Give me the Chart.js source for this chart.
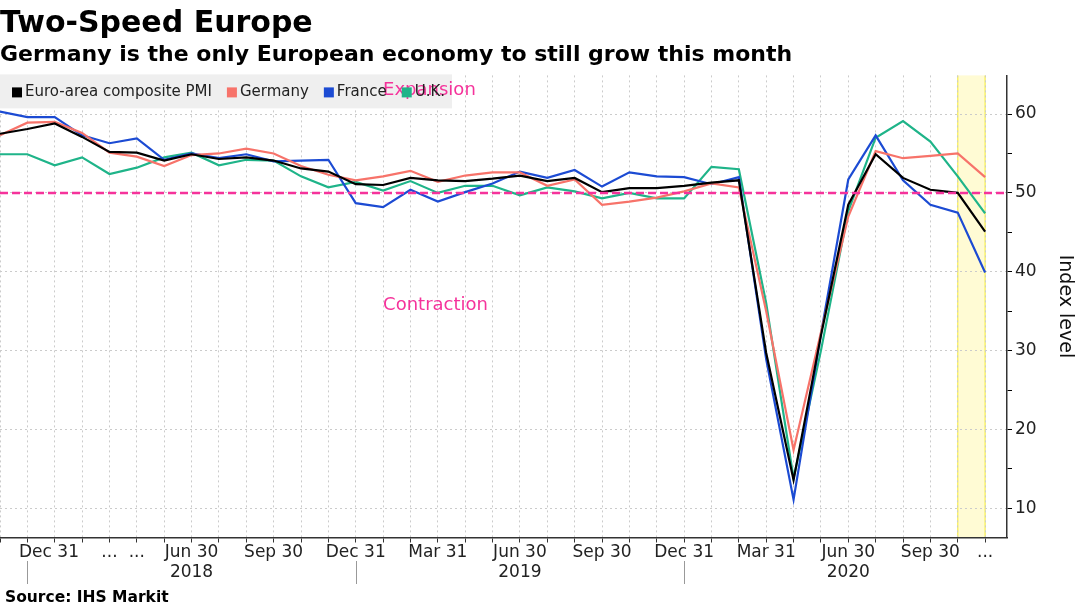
<!DOCTYPE html>
<html>
<head>
<meta charset="utf-8">
<title>Two-Speed Europe</title>
<script src="https://cdn.jsdelivr.net/npm/chart.js@4/dist/chart.umd.min.js"></script>
<style>
  html, body { margin: 0; padding: 0; background: #fff; }
  #wrap { width: 1079px; height: 606px; }
</style>
</head>
<body>
<div id="wrap"><canvas id="pmiChart" width="1079" height="606"></canvas></div>
<script>
// monthly composite PMI readings, Nov 2017 .. Nov 2020 (flash)
const months = ['Nov 2017', 'Dec 2017', 'Jan 2018', 'Feb 2018', 'Mar 2018', 'Apr 2018', 'May 2018', 'Jun 2018',
  'Jul 2018', 'Aug 2018', 'Sep 2018', 'Oct 2018', 'Nov 2018', 'Dec 2018', 'Jan 2019', 'Feb 2019', 'Mar 2019',
  'Apr 2019', 'May 2019', 'Jun 2019', 'Jul 2019', 'Aug 2019', 'Sep 2019', 'Oct 2019', 'Nov 2019', 'Dec 2019',
  'Jan 2020', 'Feb 2020', 'Mar 2020', 'Apr 2020', 'May 2020', 'Jun 2020', 'Jul 2020', 'Aug 2020', 'Sep 2020',
  'Oct 2020', 'Nov 2020'];

const tickLabels = ['', '        Dec 31', '', '', '...', '...', '', 'Jun 30', '', '', 'Sep 30', '', '', 'Dec 31', '', '',
  'Mar 31', '', '', 'Jun 30', '', '', 'Sep 30', '', '', 'Dec 31', '', '', 'Mar 31', '', '', 'Jun 30', '', '',
  'Sep 30', '', '...'];

const years = ['2018', '2019', '2020'];

const euroArea = [57.5, 58.1, 58.8, 57.1, 55.2, 55.1, 54.1, 54.9, 54.3, 54.5, 54.1, 53.1, 52.7, 51.1, 51.0, 51.9,
  51.6, 51.5, 51.8, 52.2, 51.5, 51.9, 50.1, 50.6, 50.6, 50.9, 51.3, 51.6, 29.7, 13.6, 31.9, 48.5, 54.9, 51.9,
  50.4, 50.0, 45.1];
const germany = [57.3, 58.9, 59.0, 57.6, 55.1, 54.6, 53.4, 54.8, 55.0, 55.6, 55.0, 53.4, 52.3, 51.6, 52.1, 52.8,
  51.4, 52.2, 52.6, 52.6, 50.9, 51.7, 48.5, 48.9, 49.4, 50.2, 51.2, 50.7, 35.0, 17.4, 32.3, 47.0, 55.3, 54.4,
  54.7, 55.0, 52.0];
const france = [60.3, 59.6, 59.6, 57.3, 56.3, 56.9, 54.2, 55.0, 54.4, 54.9, 54.0, 54.1, 54.2, 48.7, 48.2, 50.4,
  48.9, 50.1, 51.2, 52.7, 51.9, 52.9, 50.8, 52.6, 52.1, 52.0, 51.1, 52.0, 28.9, 11.1, 32.1, 51.7, 57.3, 51.6,
  48.5, 47.5, 39.9];
const uk = [54.9, 54.9, 53.5, 54.5, 52.4, 53.2, 54.5, 55.1, 53.5, 54.2, 54.1, 52.1, 50.7, 51.4, 50.3, 51.5,
  50.0, 50.9, 50.9, 49.7, 50.7, 50.2, 49.3, 50.0, 49.3, 49.3, 53.3, 53.0, 36.0, 13.8, 30.0, 47.7, 57.0, 59.1,
  56.5, 52.1, 47.4];

const threshold = 50;
const highlightMonth = 'Nov 2020';

const FONT = '"DejaVu Sans", Verdana, sans-serif';
const PINK = '#f5339b';

function toPoints(values) {
  return values.map((v, i) => ({ x: i, y: v }));
}

const series = [
  { label: 'Euro-area composite PMI', data: euroArea, color: '#000000' },
  { label: 'Germany', data: germany, color: '#f7736a' },
  { label: 'France', data: france, color: '#1c4bd3' },
  { label: 'U.K.', data: uk, color: '#1fb489' }
];

// yellow band behind the latest month
const bandPlugin = {
  id: 'band',
  beforeDraw(chart) {
    const { ctx, chartArea, scales } = chart;
    const i = months.indexOf(highlightMonth);
    const x1 = scales.x.getPixelForValue(i - 1);
    const x2 = scales.x.getPixelForValue(i);
    ctx.save();
    ctx.fillStyle = '#fffbd4';
    ctx.fillRect(x1, chartArea.top, x2 - x1, chartArea.bottom - chartArea.top);
    ctx.strokeStyle = '#f9f16a';
    ctx.lineWidth = 1.5;
    ctx.beginPath();
    ctx.moveTo(x1, chartArea.top); ctx.lineTo(x1, chartArea.bottom);
    ctx.moveTo(x2, chartArea.top); ctx.lineTo(x2, chartArea.bottom);
    ctx.stroke();
    ctx.restore();
  }
};

// dashed 50 line
const thresholdPlugin = {
  id: 'threshold',
  afterDatasetsDraw(chart) {
    const { ctx, chartArea, scales } = chart;
    const y = scales.y.getPixelForValue(threshold);
    ctx.save();
    ctx.strokeStyle = PINK;
    ctx.lineWidth = 2.5;
    ctx.setLineDash([8, 4]);
    ctx.beginPath();
    ctx.moveTo(chartArea.left, y);
    ctx.lineTo(chartArea.right, y);
    ctx.stroke();
    ctx.restore();
  }
};

// legend box, expansion / contraction notes, year row, source
const overlayPlugin = {
  id: 'overlay',
  afterDraw(chart) {
    const { ctx, chartArea, scales } = chart;
    const x = scales.x, y = scales.y;
    ctx.save();

    ctx.fillStyle = '#efefef';
    ctx.fillRect(0, chartArea.top - 1, 452, 34);

    ctx.font = '18px ' + FONT;
    ctx.fillStyle = PINK;
    ctx.textBaseline = 'middle';
    ctx.textAlign = 'left';
    ctx.fillText('Expansion', x.getPixelForValue(14), y.getPixelForValue(63.0));
    ctx.fillText('Contraction', x.getPixelForValue(14), y.getPixelForValue(35.8));

    ctx.font = '15px ' + FONT;
    let lx = 12;
    series.forEach(s => {
      ctx.fillStyle = s.color;
      ctx.fillRect(lx, chartArea.top + 12, 10, 10);
      ctx.fillStyle = '#222';
      ctx.fillText(s.label, lx + 13, chartArea.top + 17);
      lx += 13 + ctx.measureText(s.label).width + 15;
    });

    ctx.font = '17px ' + FONT;
    ctx.fillStyle = '#222';
    ctx.textAlign = 'center';
    ctx.strokeStyle = '#999';
    ctx.lineWidth = 1;
    years.forEach(yr => {
      const mid = scales.x.getPixelForValue(months.indexOf('Jun ' + yr));
      ctx.fillText(yr, mid, 573);
      const sep = Math.round(scales.x.getPixelForValue(months.indexOf('Dec ' + (yr - 1)))) + 0.5;
      ctx.beginPath();
      ctx.moveTo(sep, 561);
      ctx.lineTo(sep, 584);
      ctx.stroke();
    });

    ctx.font = 'bold 15.5px ' + FONT;
    ctx.fillStyle = '#000';
    ctx.textAlign = 'left';
    ctx.textBaseline = 'alphabetic';
    ctx.fillText('Source: IHS Markit', 5, 602);
    ctx.restore();
  }
};

new Chart(document.getElementById('pmiChart'), {
  type: 'line',
  data: {
    datasets: series.map(s => ({
      label: s.label,
      data: toPoints(s.data),
      borderColor: s.color,
      backgroundColor: s.color,
      borderWidth: 2.2,
      pointRadius: 0,
      tension: 0
    }))
  },
  options: {
    responsive: false,
    animation: false,
    devicePixelRatio: 1,
    layout: { padding: 0 },
    plugins: {
      legend: { display: false },
      tooltip: { enabled: false },
      title: {
        display: true,
        text: 'Two-Speed Europe',
        align: 'start',
        color: '#000',
        font: { family: FONT, size: 30, weight: 'bold' },
        padding: { top: 6, bottom: 0 }
      },
      subtitle: {
        display: true,
        text: 'Germany is the only European economy to still grow this month',
        align: 'start',
        color: '#000',
        font: { family: FONT, size: 22, weight: 'bold' },
        padding: { top: 0, bottom: 7 }
      }
    },
    scales: {
      x: {
        type: 'linear',
        min: 0,
        max: 36.8,
        afterFit: s => { s.height = 68.5; },
        ticks: {
          stepSize: 1,
          autoSkip: false,
          maxRotation: 0,
          includeBounds: false,
          padding: 0,
          color: '#222',
          font: { family: FONT, size: 17 },
          callback: v => tickLabels[v] || ''
        },
        grid: { color: '#cbcbcb', lineWidth: 1, tickColor: '#333', tickLength: 5 },
        border: { color: '#333', width: 1.5, dash: [2, 3] }
      },
      y: {
        position: 'right',
        min: 6.3,
        max: 64.9,
        afterFit: s => { s.width = 72; },
        ticks: {
          stepSize: 5,
          includeBounds: false,
          padding: 3,
          color: '#222',
          font: { family: FONT, size: 17 },
          callback: v => (v % 10 === 0 ? v : '')
        },
        grid: {
          color: c => (c.tick && c.tick.value % 10 === 0 ? '#cbcbcb' : 'rgba(0,0,0,0)'),
          lineWidth: 1,
          tickColor: '#000',
          tickLength: 5
        },
        border: { color: '#333', width: 1.5, dash: [2, 3] },
        title: {
          display: true,
          text: 'Index level',
          color: '#111',
          font: { family: FONT, size: 19 },
          padding: { top: 3, bottom: 0 }
        }
      }
    }
  },
  plugins: [bandPlugin, thresholdPlugin, overlayPlugin]
});
</script>
</body>
</html>
